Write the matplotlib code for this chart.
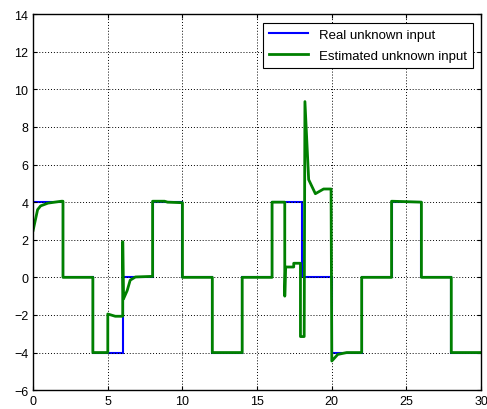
import numpy as np
import matplotlib.pyplot as plt

# real unknown input: level held on each 2 s interval
real_edges = [0, 2, 4, 6, 8, 10, 12, 14, 16, 18, 20, 22, 24, 26, 28, 30]
real_levels = [4, 0, -4, 0, 4, 0, -4, 0, 4, 0, -4, 0, 4, 0, -4]

# estimated unknown input
est_t = [0, 0.3, 0.5, 1.0, 1.9, 2.0, 2.0, 4.0, 4.0, 5.0, 5.0, 5.5, 6.0, 6.0, 6.05,
         6.3, 6.5, 6.85, 7.9, 8.0, 8.0, 8.8, 9.0, 10.0, 10.0, 12.0, 12.0, 14.0,
         14.0, 16.0, 16.0, 16.85, 16.85, 16.9, 17.45, 17.45, 17.9, 17.9, 18.15,
         18.2, 18.45, 18.9, 19.45, 19.95, 20.0, 20.4, 21.0, 22.0, 22.0, 24.0,
         24.0, 26.0, 26.0, 28.0, 28.0, 30.0]
est_y = [2.5, 3.6, 3.8, 3.95, 4.05, 4.05, 0, 0, -4, -4, -1.95, -2.07, -2.07, 1.9,
         -1.15, -0.7, -0.15, 0.02, 0.05, 0.05, 4.05, 4.05, 4.0, 3.97, 0, 0, -4, -4,
         0, 0, 4, 4, -1.0, 0.55, 0.55, 0.75, 0.75, -3.15, -3.15,
         9.35, 5.2, 4.45, 4.7, 4.7, -4.45, -4.1, -4.0, -4.0, 0, 0,
         4.05, 4.0, 0, 0, -4, -4]

plt.rcParams['font.family'] = ['Liberation Sans', 'DejaVu Sans']

fig = plt.figure(figsize=(4.87, 4.10), dpi=100)
ax = fig.add_axes([0.068, 0.046, 0.920, 0.917])

ax.stairs(real_levels, real_edges, color='#0000ff', linewidth=1.5,
          label='Real unknown input', baseline=None)
ax.plot(est_t, est_y, color='#008000', linewidth=2.0,
        label='Estimated unknown input')

ax.set_xlim(0, 30)
ax.set_ylim(-6, 14)
ax.set_xticks(np.arange(0, 31, 5))
ax.set_yticks(np.arange(-6, 15, 2))
ax.tick_params(direction='in', top=True, right=True, labelsize=9, length=3)
ax.grid(True, linestyle=(0, (1, 2)), color='black', linewidth=0.7)
for s in ax.spines.values():
    s.set_linewidth(1.0)

leg = ax.legend(loc='upper right', fontsize=9.5, fancybox=False,
                edgecolor='black', framealpha=1, borderaxespad=0.65,
                handlelength=3.0, labelspacing=0.65, borderpad=0.45)
leg.get_frame().set_linewidth(0.8)

fig.savefig('out.png', dpi=100)
